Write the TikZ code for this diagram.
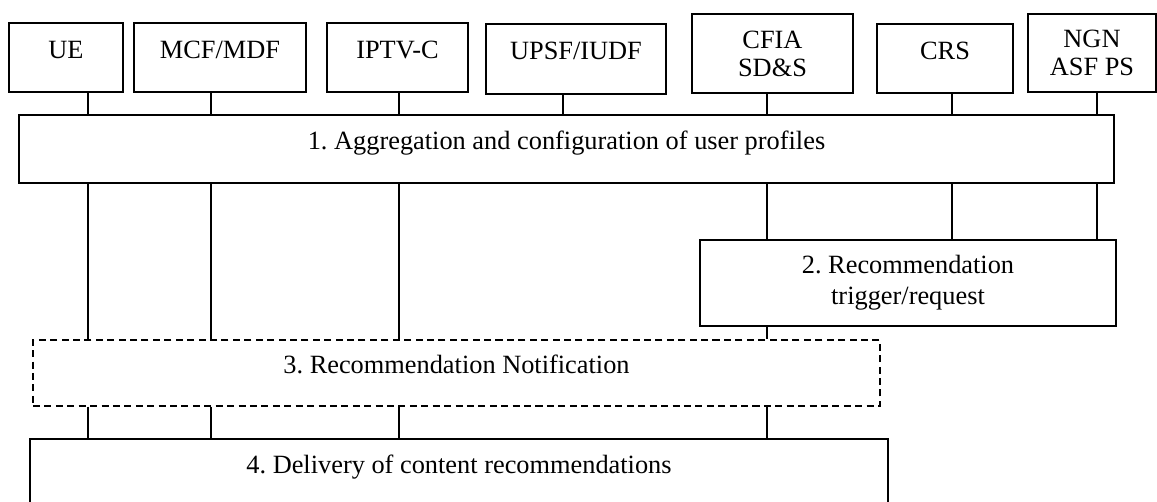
\documentclass[tikz,border=0pt]{standalone}
\usepackage{fontspec}
\setmainfont{Liberation Serif}
\usetikzlibrary{calc}
\frenchspacing
\tikzset{
    box/.style={draw, line width=0.7pt, inner sep=0pt, align=center, font=\fontsize{15}{16}\selectfont},
    onebox/.style={box, text height=10pt, text depth=9pt},
    dashbox/.style={onebox, dash pattern=on 4pt off 2.5pt},
    link/.style={line width=0.7pt}
}

\begin{document}
\begin{tikzpicture}[x=0.02cm, y=-0.02cm]
\def\u{0.02cm}
\useasboundingbox (0,0) rectangle (1157,502);
\foreach \x/\y/\w/\h/\n/\t in {66/57.5/114/69/ue/{UE}, 220/57.5/172/69/mcf/{MCF/MDF}, 397.5/57.5/141/69/iptv/{IPTV-C}, 576/59/180/70/upsf/{UPSF/IUDF}, 945/58.5/136/69/crs/{CRS}}{
    \node[onebox, minimum width=\w*\u, minimum height=\h*\u] (\n) at (\x,\y) {\t};
}
\foreach \x/\y/\w/\h/\n/\t in {772.5/53.5/161/79/cfia/{CFIA\\SD\&S}, 1092/53/128/78/ngn/{NGN\\ASF PS}}{
    \node[box, minimum width=\w*\u, minimum height=\h*\u] (\n) at (\x,\y) {\t};
}
\node[onebox, minimum width=1095*\u, minimum height=68*\u] (agg) at (566.5,149) {1. Aggregation and configuration of user profiles};
\node[box, font=\fontsize{15}{17.6}\selectfont, minimum width=416*\u, minimum height=86*\u] (req) at (908,283) {2. Recommendation\\trigger/request};
\node[dashbox, minimum width=847*\u, minimum height=66*\u] (notif) at (456.5,373) {3. Recommendation Notification};
\node[onebox, minimum width=858*\u, minimum height=68*\u] (deliv) at (459,473) {4. Delivery of content recommendations};
\foreach \n/\x in {c1/88, c2/211, c3/399, c4/563, c5/767, c6/952, c7/1097}{
    \coordinate (\n) at (\x,0);
}
\foreach \a/\b/\c in {ue/agg/c1, mcf/agg/c2, iptv/agg/c3, upsf/agg/c4, cfia/agg/c5, crs/agg/c6, ngn/agg/c7, agg/notif/c1, agg/notif/c2, agg/notif/c3, agg/req/c5, agg/req/c6, agg/req/c7, req/notif/c5, notif/deliv/c1, notif/deliv/c2, notif/deliv/c3, notif/deliv/c5}{
    \draw[link] (\a.south -| \c) -- (\b.north -| \c);
}
\end{tikzpicture}
\end{document}
